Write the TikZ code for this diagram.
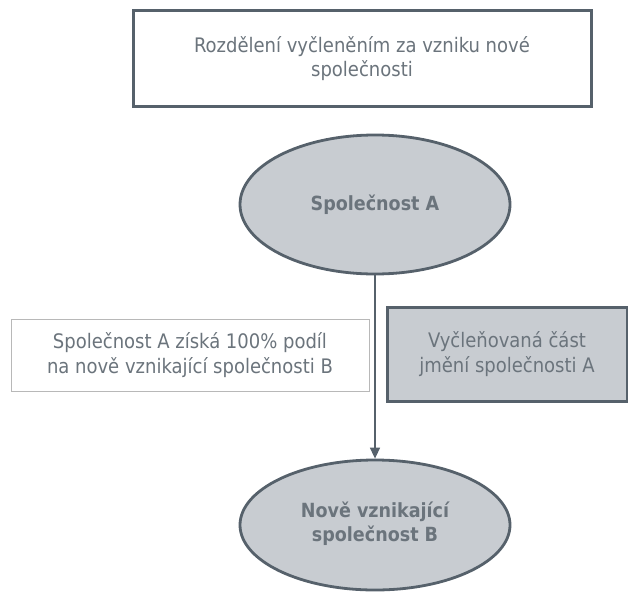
\documentclass[tikz,border=0pt]{standalone}
\usepackage{fontspec}
\setmainfont{DejaVu Sans Condensed}
\usetikzlibrary{shapes.geometric,arrows.meta}
\definecolor{txtgray}{HTML}{6B747C}
\definecolor{darkline}{HTML}{56616B}
\definecolor{fillgray}{HTML}{C8CCD1}
\definecolor{lightline}{HTML}{B8B8B8}
\tikzset{
  lbl/.style={font=\fontsize{20}{24.5}\selectfont, text=txtgray, align=center, inner sep=0pt},
  boldlbl/.style={font=\fontsize{19.5}{24}\selectfont\bfseries, text=txtgray, align=center, inner sep=0pt},
  titlebox/.style={draw=darkline, line width=3pt, fill=white, rectangle, lbl},
  plainbox/.style={draw=lightline, line width=1pt, fill=white, rectangle, lbl},
  graybox/.style={draw=darkline, line width=3pt, fill=fillgray, rectangle, lbl},
  company/.style={draw=darkline, line width=2.8pt, fill=fillgray, ellipse, boldlbl},
  arr/.style={draw=darkline, line width=1.5pt, -{Triangle[length=11pt,width=10pt]}}
}
\begin{document}
\begin{tikzpicture}[x=1pt,y=-1pt]
\useasboundingbox (0,0) rectangle (628,594);
\node[titlebox, minimum width=458pt, minimum height=95pt] (title) at (362,58.5)
  {Rozdělení vyčleněním za vzniku nové\\společnosti};
\node[company, minimum width=270pt, minimum height=139pt] (A) at (375,204.5) {Společnost A};
\node[plainbox, minimum width=358pt, minimum height=72pt] (share) at (190,355)
  {Společnost A získá 100\% podíl\\na nově vznikající společnosti B};
\node[graybox, minimum width=240pt, minimum height=94pt] (part) at (507,354)
  {Vyčleňovaná část\\jmění společnosti A};
\node[company, minimum width=270pt, minimum height=130pt] (B) at (375,525)
  {\raisebox{-3pt}{\begin{tabular}{@{}c@{}}Nově vznikající\\[0pt]společnost B\end{tabular}}};
\draw[arr] (A) -- (B);
\end{tikzpicture}
\end{document}
